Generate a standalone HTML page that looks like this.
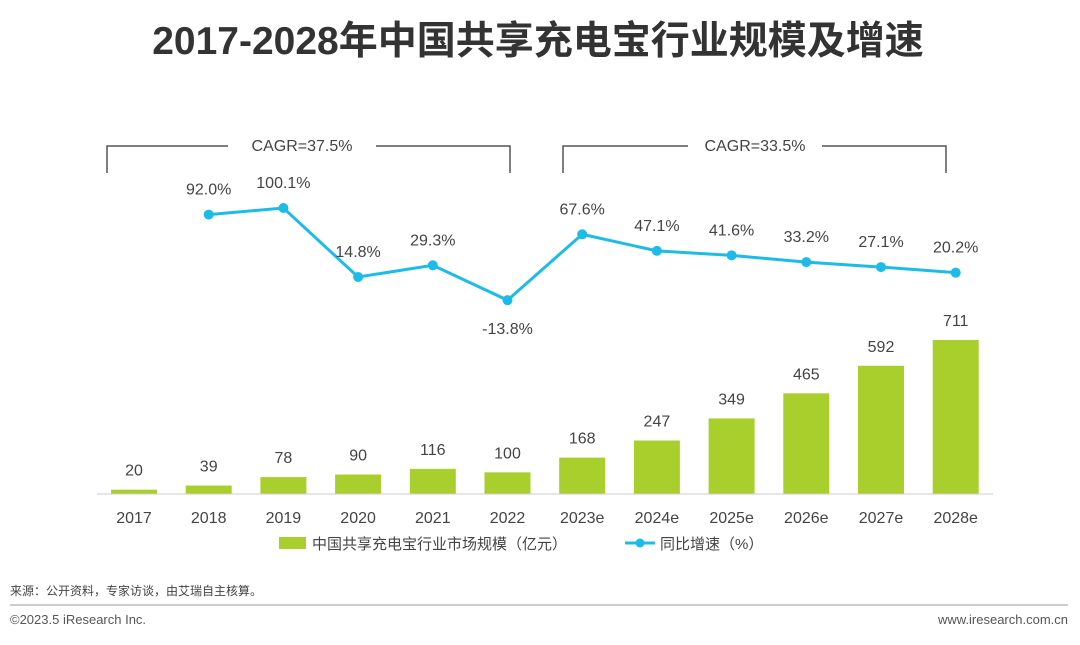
<!DOCTYPE html>
<html><head><meta charset="utf-8"><style>
body{margin:0;background:#fff;width:1080px;height:640px;overflow:hidden;font-family:"Liberation Sans","Noto Sans CJK SC",sans-serif}
</style></head><body>
<svg width="1080" height="640" font-family="Liberation Sans, Noto Sans CJK SC, sans-serif">
<text x="538" y="54" text-anchor="middle" font-size="39" font-weight="bold" fill="#333">2017-2028年中国共享充电宝行业规模及增速</text>
<g><polyline points="107,173 107,146 228,146" fill="none" stroke="#555" stroke-width="1.5"/><polyline points="376,146 510,146 510,173" fill="none" stroke="#555" stroke-width="1.5"/><text x="302" y="151" text-anchor="middle" font-size="16" fill="#444">CAGR=37.5%</text></g>
<g><polyline points="563,173 563,146 688,146" fill="none" stroke="#555" stroke-width="1.5"/><polyline points="822,146 946,146 946,173" fill="none" stroke="#555" stroke-width="1.5"/><text x="755" y="151" text-anchor="middle" font-size="16" fill="#444">CAGR=33.5%</text></g>
<g id="bars"></g><g id="line"></g><g id="labels"></g>
<line x1="97" y1="494" x2="993" y2="494" stroke="#ccc" stroke-width="1"/>
<g>
<rect x="279" y="537" width="27" height="12" fill="#A9CF2D"/>
<text x="312" y="549" font-size="15" fill="#444">中国共享充电宝行业市场规模（亿元）</text>
<line x1="625" y1="543" x2="655" y2="543" stroke="#1DBCE8" stroke-width="3"/><circle cx="640" cy="543" r="4.5" fill="#1DBCE8"/>
<text x="660" y="549" font-size="15" fill="#444">同比增速（%）</text>
</g>
<text x="10" y="595" font-size="12" fill="#444">来源：公开资料，专家访谈，由艾瑞自主核算。</text>
<line x1="10" y1="605" x2="1068" y2="605" stroke="#999" stroke-width="1"/>
<text x="10" y="624" font-size="13" fill="#555">©2023.5 iResearch Inc.</text>
<text x="1068" y="624" text-anchor="end" font-size="13" fill="#555">www.iresearch.com.cn</text>
</svg>
<script>
const categories=["2017","2018","2019","2020","2021","2022","2023e","2024e","2025e","2026e","2027e","2028e"];
const marketSize=[20,39,78,90,116,100,168,247,349,465,592,711];
const growth=[null,92.0,100.1,14.8,29.3,-13.8,67.6,47.1,41.6,33.2,27.1,20.2];
const growthLabels=["","92.0%","100.1%","14.8%","29.3%","-13.8%","67.6%","47.1%","41.6%","33.2%","27.1%","20.2%"];
const NS="http://www.w3.org/2000/svg";
const xPos=i=>134+i*74.7;
const yBar=v=>494-v*0.2166;
const yLine=v=>289-v*0.809;
function mk(t,a,p){const e=document.createElementNS(NS,t);for(const k in a)e.setAttribute(k,a[k]);document.getElementById(p).appendChild(e);return e;}
categories.forEach((c,i)=>{
 const r=mk('rect',{x:xPos(i)-23,y:yBar(marketSize[i]),width:46,height:494-yBar(marketSize[i]),fill:'#A9CF2D'},'bars');
 
 
 const t=mk('text',{x:xPos(i),y:yBar(marketSize[i])-14,'text-anchor':'middle','font-size':16,fill:'#444'},'labels');t.textContent=marketSize[i];
 
 
 const x=mk('text',{x:xPos(i),y:523,'text-anchor':'middle','font-size':16,fill:'#444'},'labels');x.textContent=c;
 
 
});
let pts=[];growth.forEach((g,i)=>{if(g!==null)pts.push(xPos(i)+','+yLine(g));});
const pl=mk('polyline',{points:pts.join(' '),fill:'none',stroke:'#1DBCE8','stroke-width':3},'line');


growth.forEach((g,i)=>{if(g===null)return;
 const d=mk('circle',{cx:xPos(i),cy:yLine(g),r:5,fill:'#1DBCE8'},'line');
 
 
 const below=g<0;
 const t=mk('text',{x:xPos(i),y:below?yLine(g)+34:yLine(g)-20,'text-anchor':'middle','font-size':16,fill:'#444'},'labels');t.textContent=growthLabels[i];
 
 
});
</script>
</body></html>
